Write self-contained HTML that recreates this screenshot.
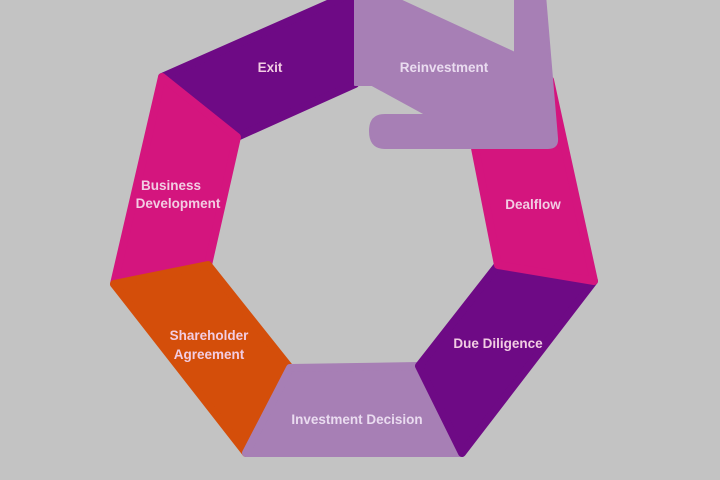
<!DOCTYPE html>
<html><head><meta charset="utf-8"><style>
html,body{margin:0;padding:0;background:#c3c3c3;}
svg{display:block}
text{font-family:"Liberation Sans",sans-serif;font-weight:bold;font-size:13.5px;text-anchor:middle;}
</style></head><body>
<svg width="720" height="480" viewBox="0 0 720 480" xmlns="http://www.w3.org/2000/svg">
<rect width="720" height="480" fill="#c3c3c3"/>
<g stroke-linejoin="round" stroke-width="8">
<polygon points="162,77 355,-8 355,84 237,137" fill="#6e0a85" stroke="#6e0a85"/>
<polygon points="162,77 237,137 208,265 114,284" fill="#d4157e" stroke="#d4157e"/>
<polygon points="114,284 208,265 290,368 246,453" fill="#d44e0a" stroke="#d44e0a"/>
<polygon points="246,453 290,368 419,366 462,453" fill="#a77fb5" stroke="#a77fb5"/>
<polygon points="462,453 419,366 498,265 594,281" fill="#6e0a85" stroke="#6e0a85"/>
<polygon points="594,281 498,265 473,138 550,80" fill="#d4157e" stroke="#d4157e"/>
</g>
<path d="M355,-5 L400,-5 L400,0 L515,53 L515,-5 L545,-5 L557,138 Q558,148 548,148 L385,148 Q370,148 370,131 Q370,115 385,115 L427,115 L372,85 L355,85 Z" fill="#a77fb5" stroke="#a77fb5" stroke-width="2" stroke-linejoin="round"/>
<g fill="#f2cde3">
<text x="270" y="72">Exit</text>
<text x="533" y="209">Dealflow</text>
<text x="498" y="348">Due Diligence</text>
<text x="209" y="340">Shareholder</text>
<text x="209" y="359">Agreement</text>
<text x="171" y="190">Business</text>
<text x="178" y="208">Development</text>
</g>
<g fill="#eadcf0">
<text x="444" y="72">Reinvestment</text>
<text x="357" y="424">Investment Decision</text>
</g>
</svg>
</body></html>
